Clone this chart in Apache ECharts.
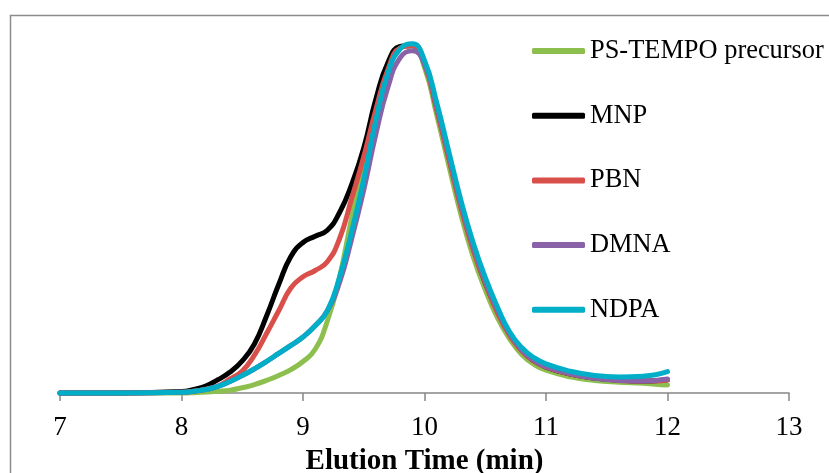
<!DOCTYPE html>
<html>
<head>
<meta charset="utf-8">
<script src="https://cdn.jsdelivr.net/npm/echarts@6/dist/echarts.min.js"></script>
<style>
html,body{margin:0;padding:0;background:#fff;}
#chart{width:829px;height:473px;}
</style>
</head>
<body>
<div id="chart"></div>
<script>
// Elution time (min)
const times = [7.0, 7.5, 8.0, 8.1, 8.2, 8.3, 8.4, 8.5, 8.6, 8.7, 8.8, 8.9, 9.0, 9.1, 9.2, 9.3, 9.4, 9.5, 9.6, 9.7, 9.8, 9.9, 10.0, 10.1, 10.2, 10.3, 10.4, 10.5, 10.6, 10.7, 10.8, 10.9, 11.0, 11.2, 11.4, 11.6, 11.8, 11.9, 12.0];

const seriesNames = ['PS-TEMPO precursor', 'MNP', 'PBN', 'DMNA', 'NDPA'];

const psTempo = [0, 0, 0, 0.1, 0.3, 0.5, 0.8, 1.5, 2.4, 3.6, 5.0, 6.7, 9.0, 12.5, 20.5, 33, 50, 66, 81.5, 93, 99, 99.2, 93, 79.5, 65, 51, 39, 29.5, 21.5, 15.5, 11, 8.2, 6.5, 4.6, 3.6, 3.1, 2.8, 2.5, 2.3];
const mnp     = [0, 0, 0.4, 1.0, 2.0, 3.8, 6.0, 9.2, 14, 22, 31, 39, 43, 44.8, 46.5, 51.5, 59.5, 70, 84, 94.5, 99, 99.3, 94.5, 81.5, 67.5, 53.5, 41.5, 31.5, 23.5, 17, 12.2, 9.2, 7.4, 5.4, 4.3, 3.7, 3.4, 3.5, 3.8];
const pbn     = [0, 0, 0.2, 0.5, 1.1, 2.0, 4.0, 6.3, 10.8, 17, 23.5, 30, 33.2, 35, 37.5, 44, 55.5, 67.5, 81, 92.5, 98.6, 99.2, 94, 81, 67, 53, 41, 31.5, 23, 16.5, 12, 9.2, 7.4, 5.4, 4.3, 3.6, 3.4, 3.4, 3.7];
const dmna    = [0, 0, 0.2, 0.5, 1.0, 1.9, 3.3, 5.0, 6.9, 9.0, 11.3, 13.6, 16.0, 19.2, 23.5, 31.5, 44, 58, 74, 87.5, 95.8, 97.8, 94, 82, 68, 54, 42, 32, 23.8, 17, 12.3, 9.4, 7.5, 5.5, 4.2, 3.6, 3.4, 3.6, 4.0];
const ndpa    = [0, 0, 0.2, 0.5, 1.0, 1.9, 3.3, 5.0, 6.9, 9.0, 11.3, 13.6, 16.0, 19.2, 23.5, 33, 46, 61, 78, 91.5, 98.3, 99.8, 95, 83, 69, 55, 43, 33, 24.6, 17.5, 13, 10.1, 8.3, 6.2, 5.0, 4.6, 4.8, 5.2, 6.1];

const xTicks = [7, 8, 9, 10, 11, 12, 13];
const xTitle = 'Elution Time (min)';

const colors = ['#8cbf4d', '#000000', '#d9504a', '#8a62a8', '#00aec8'];
const allValues = [psTempo, mnp, pbn, dmna, ndpa];

const chart = echarts.init(document.getElementById('chart'), null, {renderer: 'canvas'});

const series = seriesNames.map((name, k) => ({
  name: name,
  type: 'line',
  data: times.map((t, i) => [t, allValues[k][i]]),
  smooth: 0.5,
  showSymbol: false,
  symbol: 'none',
  clip: false,
  z: 2 + k,
  lineStyle: {color: colors[k], width: 5, cap: 'round', join: 'round'},
  itemStyle: {color: colors[k]},
  emphasis: {disabled: true},
  animation: false
}));

const option = {
  animation: false,
  backgroundColor: '#ffffff',
  graphic: [{
    type: 'rect',
    shape: {x: 10.5, y: 15.5, width: 840, height: 480},
    style: {fill: 'none', stroke: '#8c8c8c', lineWidth: 1.5},
    silent: true,
    z: 0
  }],
  grid: {left: 60, right: 40, top: 43, bottom: 80, containLabel: false, outerBoundsMode: 'none'},
  legend: {
    orient: 'vertical',
    left: 527,
    top: 31,
    icon: 'roundRect',
    itemWidth: 53,
    itemHeight: 6,
    itemGap: 34.7,
    data: seriesNames,
    selectedMode: false,
    textStyle: {fontFamily: 'Liberation Serif', fontSize: 26.4, color: '#000', lineHeight: 30}
  },
  xAxis: {
    type: 'value',
    min: 7,
    max: 13,
    interval: 1,
    name: xTitle,
    nameLocation: 'middle',
    nameGap: 54,
    nameTextStyle: {fontFamily: 'Liberation Serif', fontSize: 29, fontWeight: 'bold', color: '#000'},
    axisLine: {show: true, lineStyle: {color: '#868686', width: 1.5}},
    axisTick: {show: true, inside: false, length: 8, lineStyle: {color: '#868686', width: 1.5}},
    axisLabel: {
      fontFamily: 'Liberation Serif', fontSize: 27, color: '#000', margin: 21,
      formatter: v => xTicks.includes(v) ? String(v) : ''
    },
    splitLine: {show: false}
  },
  yAxis: {
    type: 'value',
    min: 0,
    max: 100,
    show: false,
    splitLine: {show: false}
  },
  series: series
};

chart.setOption(option);
</script>
</body>
</html>
